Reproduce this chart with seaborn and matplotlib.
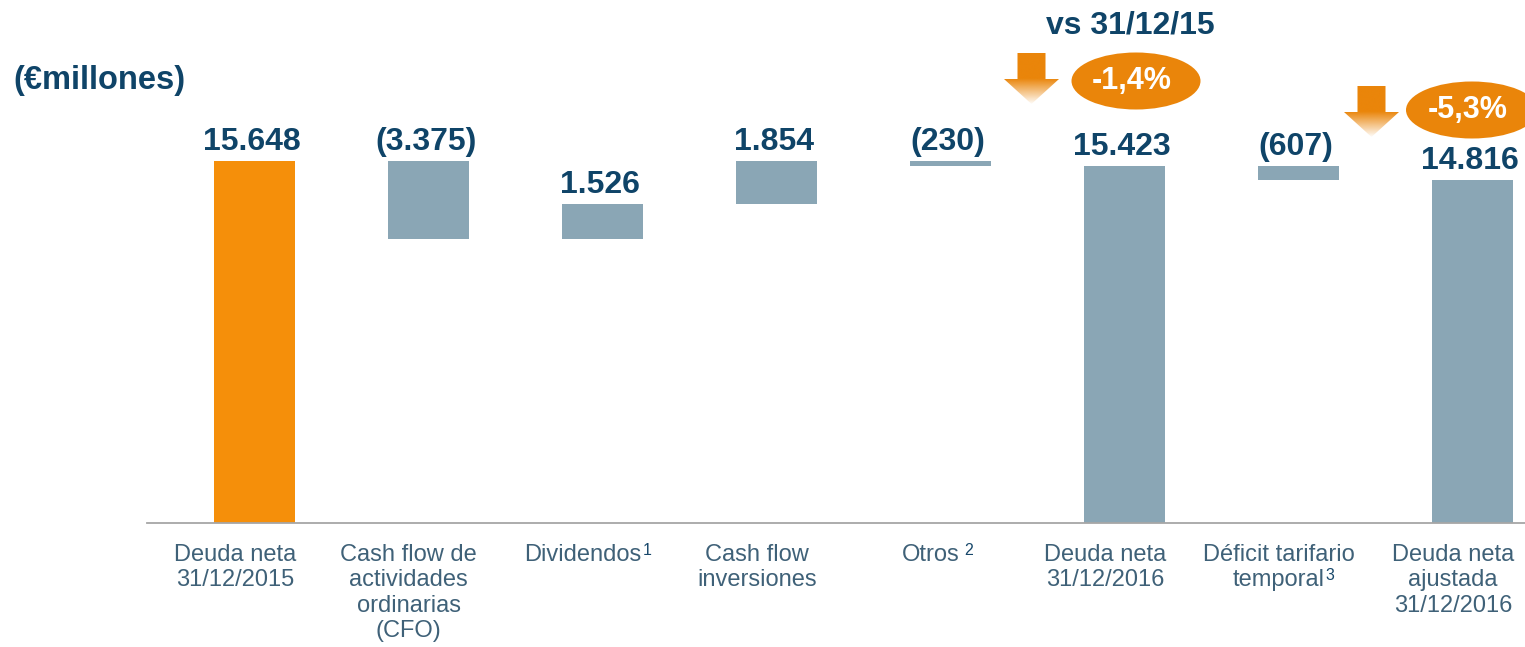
import numpy as np
import pandas as pd
import matplotlib
matplotlib.use('Agg')
import matplotlib.pyplot as plt
from matplotlib.patches import Ellipse, Polygon
from matplotlib.transforms import ScaledTranslation
import seaborn as sns

# ------------------ DATOS (millones de euros) ------------------
categorias = ['Deuda neta\n31/12/2015',
              'Cash flow de\nactividades\nordinarias\n(CFO)',
              'Dividendos',
              'Cash flow\ninversiones',
              'Otros',
              'Deuda neta\n31/12/2016',
              'Déficit tarifario\ntemporal',
              'Deuda neta\najustada\n31/12/2016']
notas = ['', '', '1', '', '2', '', '3', '']
valores = [15648, -3375, 1526, 1854, -230, 15423, -607, 14816]
es_total = [True, False, False, False, False, True, False, True]
variaciones = ['-1,4%', '-5,3%']

# colores
NARANJA = '#F58F0A'
NARANJA_OSC = '#EA850A'
GRIS_AZUL = '#8AA6B5'
AZUL_TXT = '#0F4468'
ETIQ_TXT = '#3F6178'
NOTA_TXT = '#17476A'

# ------------------ CALCULO CASCADA ------------------
bases, alturas = [], []
acum = 0
for v, t in zip(valores, es_total):
    if t:
        bases.append(0)
        alturas.append(v)
        acum = v
    else:
        nuevo = acum + v
        bases.append(min(acum, nuevo))
        alturas.append(abs(v))
        acum = nuevo

df = pd.DataFrame({'categoria': categorias, 'base': bases, 'altura': alturas, 'valor': valores})

def etiqueta(v):
    s = f'{abs(v):,}'.replace(',', '.')
    return f'({s})' if v < 0 else s

# ------------------ FIGURA ------------------
sns.set_style('white')
plt.rcParams['font.family'] = ['Liberation Sans', 'DejaVu Sans']

fig = plt.figure(figsize=(15.25, 6.47), dpi=100)
ax = fig.add_axes([147 / 1525, 1 - 523 / 647, 1 - 147 / 1525, 523 / 647])

sns.barplot(data=df, x='categoria', y='altura', order=categorias,
            bottom=df['base'].tolist(), color=GRIS_AZUL, width=0.466,
            saturation=1, linewidth=0, ax=ax)
ax.patches[0].set_facecolor(NARANJA)

for i, row in df.iterrows():
    ax.annotate(etiqueta(row['valor']), xy=(i, row['base'] + row['altura']),
                xytext=(-2, 3), textcoords='offset points',
                ha='center', va='bottom', fontsize=23, fontweight='bold',
                color=AZUL_TXT)

ax.set_xlim(-0.62, 7.3)
ax.set_ylim(0, 15648 * 523 / 362)
ax.set_xlabel('')
ax.set_ylabel('')
ax.set_yticks([])
for s in ['left', 'top', 'right']:
    ax.spines[s].set_visible(False)
ax.spines['bottom'].set_color('#A6A6A6')
ax.spines['bottom'].set_linewidth(1.3)
ax.tick_params(axis='x', length=0, pad=15, labelsize=17, labelcolor=ETIQ_TXT)
# las etiquetas del eje van algo desplazadas a la izquierda de las barras
desplaza = ScaledTranslation(-0.2, 0, fig.dpi_scale_trans)
for lab in ax.get_xticklabels():
    lab.set_linespacing(1.2)
    lab.set_transform(lab.get_transform() + desplaza)

# notas (superindices) detras de la ultima linea de cada etiqueta
fig.canvas.draw()
r = fig.canvas.get_renderer()
for lab, nota in zip(ax.get_xticklabels(), notas):
    if not nota:
        continue
    bb = lab.get_window_extent(r)
    lineas = lab.get_text().split('\n')
    tmp = fig.text(0, 0, lineas[-1], fontsize=17)
    bt = tmp.get_window_extent(r)
    tmp.remove()
    n = len(lineas)
    paso = (bb.height - bt.height) / (n - 1) if n > 1 else 0
    cx = (bb.x0 + bb.x1) / 2
    x = cx + bt.width / 2 + (5 if nota == '2' else 1)
    y = bb.y1 - (n - 1) * paso + 1
    ax.annotate(nota, xy=(x, y), xycoords='figure pixels', ha='left', va='top',
                fontsize=11.5, color=NOTA_TXT)

# ------------------ CABECERA (coordenadas en pixeles) ------------------
ov = fig.add_axes([0, 0, 1, 1], zorder=5)
ov.set_xlim(0, 1525)
ov.set_ylim(647, 0)
ov.axis('off')
ov.patch.set_alpha(0)

ov.text(13, 80, '(€millones)', ha='left', va='center', fontsize=23.5,
        fontweight='bold', color=AZUL_TXT)
ov.text(1130, 25, 'vs 31/12/15', ha='center', va='center', fontsize=23,
        fontweight='bold', color=AZUL_TXT)


def flecha(x0, y0):
    # flecha hacia abajo con degradado naranja -> blanco
    pts = [(x0 + 13.5, y0), (x0 + 41.5, y0), (x0 + 41.5, y0 + 26), (x0 + 55, y0 + 26),
           (x0 + 27.5, y0 + 51), (x0, y0 + 26), (x0 + 13.5, y0 + 26)]
    poly = Polygon(pts, closed=True, facecolor='none', edgecolor='none')
    ov.add_patch(poly)
    n = 100
    t = np.linspace(0, 1, n)
    alfa = np.ones(n)
    alfa[t > 0.5] = 1 - (t[t > 0.5] - 0.5) / 0.5 * 0.97
    rgba = np.zeros((n, 1, 4))
    rgba[..., :3] = matplotlib.colors.to_rgb(NARANJA_OSC)
    rgba[:, 0, 3] = alfa
    im = ov.imshow(rgba, extent=(x0, x0 + 55, y0 + 51, y0), aspect='auto',
                   interpolation='bilinear')
    im.set_clip_path(poly)


flecha(1004, 53)
flecha(1344, 86)

# (centro x, centro y, ancho, x del texto)
globos = [(1136, 81, 129, 1132), (1472, 110, 132, 1468)]
for (cx, cy, w, tx), txt in zip(globos, variaciones):
    ov.add_patch(Ellipse((cx, cy), w, 57, facecolor=NARANJA_OSC, edgecolor='none'))
    ov.text(tx, cy, txt, ha='center', va='center', fontsize=22,
            fontweight='bold', color='white')

ov.set_xlim(0, 1525)
ov.set_ylim(647, 0)

fig.savefig('out.png', dpi=100)
